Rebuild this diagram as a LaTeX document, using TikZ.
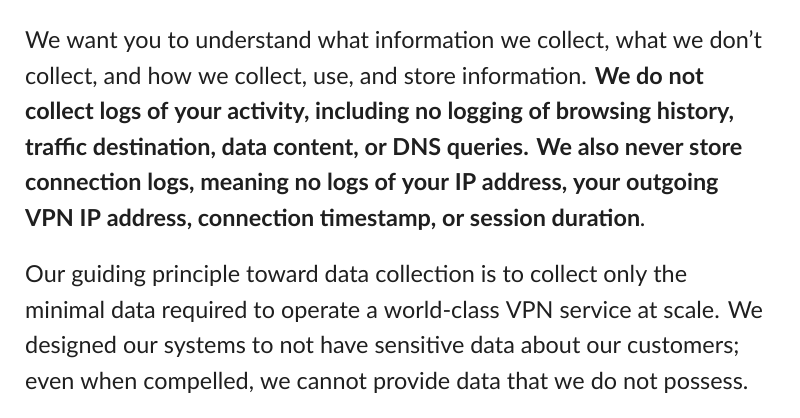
\documentclass[tikz,border=0pt]{standalone}
\usepackage{fontspec}
\setmainfont{Lato}
\begin{document}
\begin{tikzpicture}[x=1bp,y=-1bp,txt/.style={anchor=base west,inner sep=0pt,font=\fontsize{23.4bp}{28bp}\selectfont,text=black!88}]
\useasboundingbox (0,0) rectangle (800,417);
\node[txt] (l1) at (25,48) {We want you to understand what information we collect, what we don’t};
\node[txt] (l2) at (25,84) {collect, and how we collect, use, and store information. \textbf{We do not}};
\node[txt] (l3) at (25,119) {\textbf{collect logs of your activity, including no logging of browsing history,}};
\node[txt] (l4) at (25,155) {\textbf{traffic destination, data content, or DNS queries. We also never store}};
\node[txt] (l5) at (25,190) {\textbf{connection logs, meaning no logs of your IP address, your outgoing}};
\node[txt] (l6) at (25,226) {\textbf{VPN IP address, connection timestamp, or session duration}.};
\node[txt] (m1) at (25,282) {Our guiding principle toward data collection is to collect only the};
\node[txt] (m2) at (25,318) {minimal data required to operate a world-class VPN service at scale. We};
\node[txt] (m3) at (25,353) {designed our systems to not have sensitive data about our customers;};
\node[txt] (m4) at (25,389) {even when compelled, we cannot provide data that we do not possess.};
\end{tikzpicture}
\end{document}
